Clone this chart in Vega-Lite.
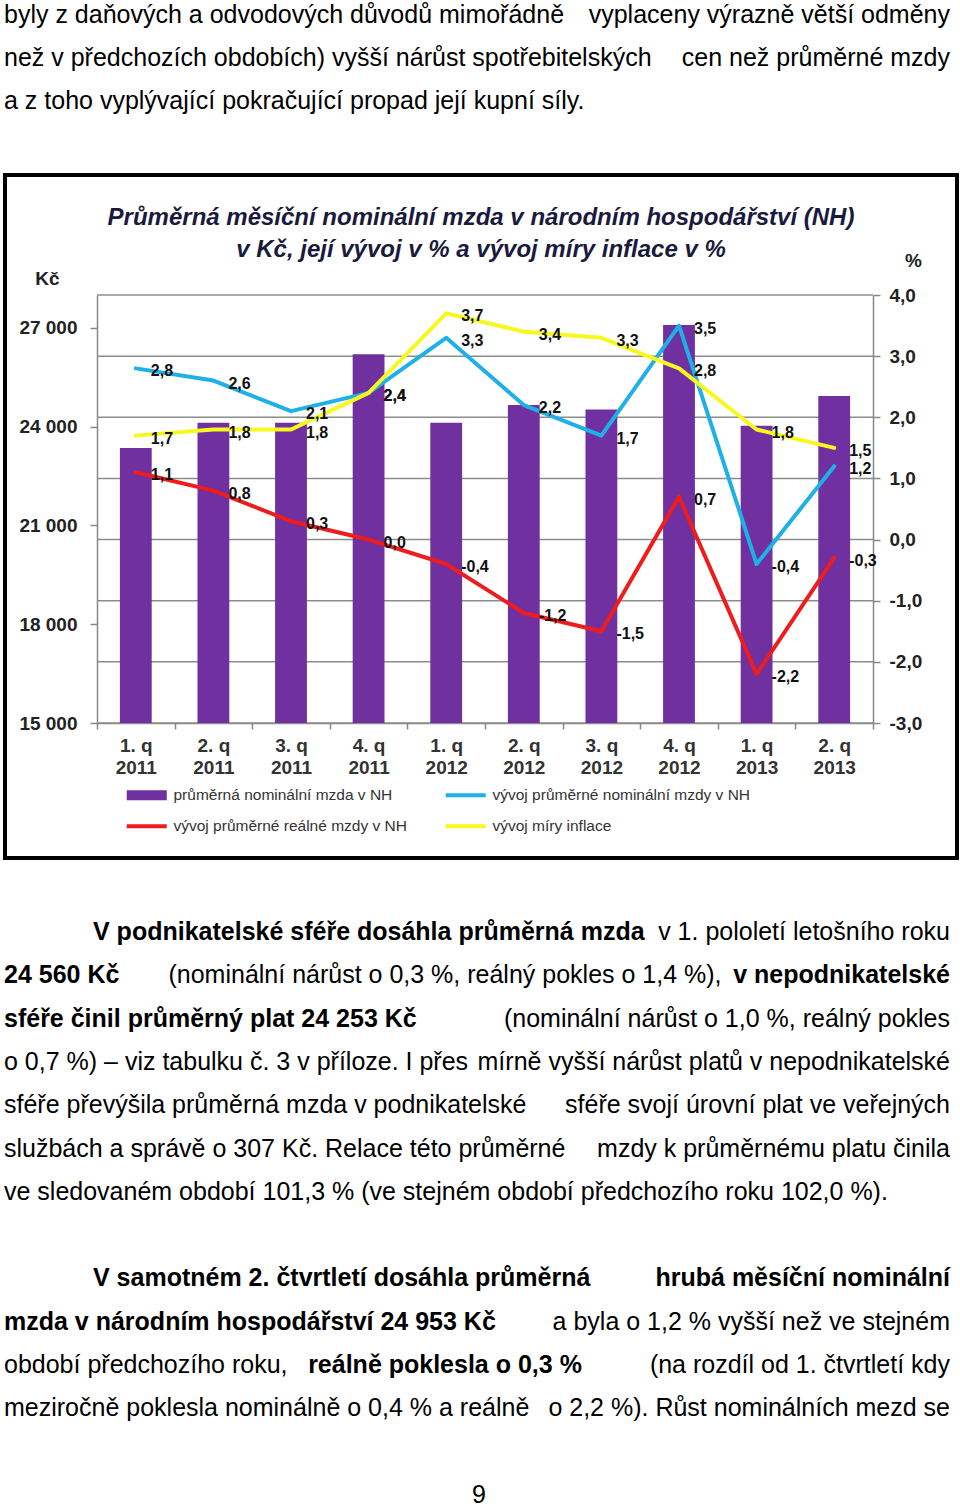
{
  "$schema": "https://vega.github.io/schema/vega-lite/v6.json",
  "padding": {"left": 3, "top": 0, "right": 0, "bottom": 0},
  "background": "white",
  "spacing": 0,
  "config": {
    "font": "Liberation Sans",
    "view": {"stroke": null},
    "locale": {"number": {"decimal": ",", "thousands": " ", "grouping": [3], "currency": ["", " Kč"], "minus": "-"}}
  },
  "datasets": {
    "horni": [
      {"radek": 0, "zarovnani": "levý okraj", "text": "byly z daňových a odvodových důvodů mimořádně"},
      {"radek": 0, "zarovnani": "pravý okraj", "text": "vyplaceny výrazně větší odměny"},
      {"radek": 1, "zarovnani": "levý okraj", "text": "než v předchozích obdobích) vyšší nárůst spotřebitelských"},
      {"radek": 1, "zarovnani": "pravý okraj", "text": "cen než průměrné mzdy"},
      {"radek": 2, "zarovnani": "levý okraj", "text": "a z toho vyplývající pokračující propad její kupní síly."}
    ],
    "mrizka": [
      {"uroven": -3}, {"uroven": -2}, {"uroven": -1}, {"uroven": 0},
      {"uroven": 1}, {"uroven": 2}, {"uroven": 3}, {"uroven": 4}
    ],
    "graf": [
      {"ctvrtleti": "1. q 2011", "ukazatel": "průměrná nominální mzda v NH", "hodnota": 23350},
      {"ctvrtleti": "2. q 2011", "ukazatel": "průměrná nominální mzda v NH", "hodnota": 24120},
      {"ctvrtleti": "3. q 2011", "ukazatel": "průměrná nominální mzda v NH", "hodnota": 24120},
      {"ctvrtleti": "4. q 2011", "ukazatel": "průměrná nominální mzda v NH", "hodnota": 26200},
      {"ctvrtleti": "1. q 2012", "ukazatel": "průměrná nominální mzda v NH", "hodnota": 24120},
      {"ctvrtleti": "2. q 2012", "ukazatel": "průměrná nominální mzda v NH", "hodnota": 24660},
      {"ctvrtleti": "3. q 2012", "ukazatel": "průměrná nominální mzda v NH", "hodnota": 24520},
      {"ctvrtleti": "4. q 2012", "ukazatel": "průměrná nominální mzda v NH", "hodnota": 27090},
      {"ctvrtleti": "1. q 2013", "ukazatel": "průměrná nominální mzda v NH", "hodnota": 24030},
      {"ctvrtleti": "2. q 2013", "ukazatel": "průměrná nominální mzda v NH", "hodnota": 24930},
      {"ctvrtleti": "1. q 2011", "ukazatel": "vývoj průměrné nominální mzdy v NH", "hodnota": 2.8},
      {"ctvrtleti": "2. q 2011", "ukazatel": "vývoj průměrné nominální mzdy v NH", "hodnota": 2.6},
      {"ctvrtleti": "3. q 2011", "ukazatel": "vývoj průměrné nominální mzdy v NH", "hodnota": 2.1},
      {"ctvrtleti": "4. q 2011", "ukazatel": "vývoj průměrné nominální mzdy v NH", "hodnota": 2.4},
      {"ctvrtleti": "1. q 2012", "ukazatel": "vývoj průměrné nominální mzdy v NH", "hodnota": 3.3},
      {"ctvrtleti": "2. q 2012", "ukazatel": "vývoj průměrné nominální mzdy v NH", "hodnota": 2.2},
      {"ctvrtleti": "3. q 2012", "ukazatel": "vývoj průměrné nominální mzdy v NH", "hodnota": 1.7},
      {"ctvrtleti": "4. q 2012", "ukazatel": "vývoj průměrné nominální mzdy v NH", "hodnota": 3.5},
      {"ctvrtleti": "1. q 2013", "ukazatel": "vývoj průměrné nominální mzdy v NH", "hodnota": -0.4},
      {"ctvrtleti": "2. q 2013", "ukazatel": "vývoj průměrné nominální mzdy v NH", "hodnota": 1.2},
      {"ctvrtleti": "1. q 2011", "ukazatel": "vývoj průměrné reálné mzdy v NH", "hodnota": 1.1},
      {"ctvrtleti": "2. q 2011", "ukazatel": "vývoj průměrné reálné mzdy v NH", "hodnota": 0.8},
      {"ctvrtleti": "3. q 2011", "ukazatel": "vývoj průměrné reálné mzdy v NH", "hodnota": 0.3},
      {"ctvrtleti": "4. q 2011", "ukazatel": "vývoj průměrné reálné mzdy v NH", "hodnota": 0.0},
      {"ctvrtleti": "1. q 2012", "ukazatel": "vývoj průměrné reálné mzdy v NH", "hodnota": -0.4},
      {"ctvrtleti": "2. q 2012", "ukazatel": "vývoj průměrné reálné mzdy v NH", "hodnota": -1.2},
      {"ctvrtleti": "3. q 2012", "ukazatel": "vývoj průměrné reálné mzdy v NH", "hodnota": -1.5},
      {"ctvrtleti": "4. q 2012", "ukazatel": "vývoj průměrné reálné mzdy v NH", "hodnota": 0.7},
      {"ctvrtleti": "1. q 2013", "ukazatel": "vývoj průměrné reálné mzdy v NH", "hodnota": -2.2},
      {"ctvrtleti": "2. q 2013", "ukazatel": "vývoj průměrné reálné mzdy v NH", "hodnota": -0.3},
      {"ctvrtleti": "1. q 2011", "ukazatel": "vývoj míry inflace", "hodnota": 1.7},
      {"ctvrtleti": "2. q 2011", "ukazatel": "vývoj míry inflace", "hodnota": 1.8},
      {"ctvrtleti": "3. q 2011", "ukazatel": "vývoj míry inflace", "hodnota": 1.8},
      {"ctvrtleti": "4. q 2011", "ukazatel": "vývoj míry inflace", "hodnota": 2.4},
      {"ctvrtleti": "1. q 2012", "ukazatel": "vývoj míry inflace", "hodnota": 3.7},
      {"ctvrtleti": "2. q 2012", "ukazatel": "vývoj míry inflace", "hodnota": 3.4},
      {"ctvrtleti": "3. q 2012", "ukazatel": "vývoj míry inflace", "hodnota": 3.3},
      {"ctvrtleti": "4. q 2012", "ukazatel": "vývoj míry inflace", "hodnota": 2.8},
      {"ctvrtleti": "1. q 2013", "ukazatel": "vývoj míry inflace", "hodnota": 1.8},
      {"ctvrtleti": "2. q 2013", "ukazatel": "vývoj míry inflace", "hodnota": 1.5}
    ],
    "dolni": [
      {"radek": 0, "zarovnani": "odstavec", "tucne": true, "text": "V podnikatelské sféře dosáhla průměrná mzda"},
      {"radek": 0, "zarovnani": "pravý okraj", "tucne": false, "text": "v 1. pololetí letošního roku"},
      {"radek": 1, "zarovnani": "levý okraj", "tucne": true, "text": "24 560 Kč"},
      {"radek": 1, "zarovnani": "střed", "tucne": false, "text": "(nominální nárůst o 0,3 %, reálný pokles o 1,4 %),"},
      {"radek": 1, "zarovnani": "pravý okraj", "tucne": true, "text": "v nepodnikatelské"},
      {"radek": 2, "zarovnani": "levý okraj", "tucne": true, "text": "sféře činil průměrný plat 24 253 Kč"},
      {"radek": 2, "zarovnani": "pravý okraj", "tucne": false, "text": "(nominální nárůst o 1,0 %, reálný pokles"},
      {"radek": 3, "zarovnani": "levý okraj", "tucne": false, "text": "o 0,7 %) – viz tabulku č. 3 v příloze. I přes"},
      {"radek": 3, "zarovnani": "pravý okraj", "tucne": false, "text": "mírně vyšší nárůst platů v nepodnikatelské"},
      {"radek": 4, "zarovnani": "levý okraj", "tucne": false, "text": "sféře převýšila průměrná mzda v podnikatelské"},
      {"radek": 4, "zarovnani": "pravý okraj", "tucne": false, "text": "sféře svojí úrovní plat ve veřejných"},
      {"radek": 5, "zarovnani": "levý okraj", "tucne": false, "text": "službách a správě o 307 Kč. Relace této průměrné"},
      {"radek": 5, "zarovnani": "pravý okraj", "tucne": false, "text": "mzdy k průměrnému platu činila"},
      {"radek": 6, "zarovnani": "levý okraj", "tucne": false, "text": "ve sledovaném období 101,3 % (ve stejném období předchozího roku 102,0 %)."},
      {"radek": 8, "zarovnani": "odstavec", "tucne": true, "text": "V samotném 2. čtvrtletí dosáhla průměrná"},
      {"radek": 8, "zarovnani": "pravý okraj", "tucne": true, "text": "hrubá měsíční nominální"},
      {"radek": 9, "zarovnani": "levý okraj", "tucne": true, "text": "mzda v národním hospodářství 24 953 Kč"},
      {"radek": 9, "zarovnani": "pravý okraj", "tucne": false, "text": "a byla o 1,2 % vyšší než ve stejném"},
      {"radek": 10, "zarovnani": "levý okraj", "tucne": false, "text": "období předchozího roku,"},
      {"radek": 10, "zarovnani": "střed", "tucne": true, "text": "reálně poklesla o 0,3 %"},
      {"radek": 10, "zarovnani": "pravý okraj", "tucne": false, "text": "(na rozdíl od 1. čtvrtletí kdy"},
      {"radek": 11, "zarovnani": "levý okraj", "tucne": false, "text": "meziročně poklesla nominálně o 0,4 % a reálně"},
      {"radek": 11, "zarovnani": "pravý okraj", "tucne": false, "text": "o 2,2 %). Růst nominálních mezd se"},
      {"radek": 13, "zarovnani": "číslo strany", "tucne": false, "text": "9"}
    ]
  },
  "vconcat": [
    {
      "width": 952,
      "height": 173,
      "view": {"fill": "white", "stroke": null},
      "data": {"name": "horni"},
      "encoding": {
        "y": {"field": "radek", "type": "quantitative", "scale": {"domain": [0, 2], "range": [23, 108.5]}, "axis": null}
      },
      "layer": [
        {
          "transform": [{"filter": "datum.zarovnani === 'levý okraj'"}],
          "mark": {"type": "text", "align": "left", "baseline": "alphabetic", "fontSize": 25, "color": "#000"},
          "encoding": {
            "x": {"field": "zarovnani", "type": "nominal", "scale": {"type": "point", "domain": ["levý okraj", "odstavec"], "range": [-1, 88], "padding": 0}, "axis": null},
            "text": {"field": "text"}
          }
        },
        {
          "transform": [{"filter": "datum.zarovnani === 'pravý okraj'"}],
          "mark": {"type": "text", "align": "right", "baseline": "alphabetic", "fontSize": 25, "color": "#000"},
          "encoding": {
            "x": {"field": "zarovnani", "type": "nominal", "scale": {"type": "point", "domain": ["pravý okraj"], "range": [945, 945], "padding": 0}, "axis": null},
            "text": {"field": "text"}
          }
        }
      ],
      "resolve": {"scale": {"x": "independent"}}
    },
    {
      "width": 952,
      "height": 683,
      "view": {"fill": "white", "stroke": "#000000", "strokeWidth": 4},
      "title": {
        "text": ["Průměrná měsíční nominální mzda v národním hospodářství (NH)", "v Kč, její vývoj v % a vývoj míry inflace v %"],
        "anchor": "middle",
        "frame": "group",
        "orient": "top",
        "offset": -111,
        "baseline": "bottom",
        "fontSize": 24,
        "fontWeight": "bold",
        "fontStyle": "italic",
        "lineHeight": 32,
        "color": "#1a1a3c",
        "font": "Liberation Sans"
      },
      "layer": [
        {
          "data": {"name": "mrizka"},
          "mark": {"type": "rule", "color": "#8c8c8c", "strokeWidth": 1.5},
          "encoding": {
            "y": {"field": "uroven", "type": "quantitative", "scale": {"domain": [-3, 4], "range": [548, 120], "zero": false, "nice": false}, "axis": null},
            "x": {"datum": 0, "type": "quantitative", "scale": {"domain": [0, 1], "range": [92, 868], "zero": false, "nice": false}, "axis": null},
            "x2": {"datum": 1}
          }
        },
        {
          "data": {"name": "graf"},
          "encoding": {
            "x": {
              "field": "ctvrtleti",
              "type": "nominal",
              "sort": null,
              "scale": {"type": "band", "domain": ["1. q 2011", "2. q 2011", "3. q 2011", "4. q 2011", "1. q 2012", "2. q 2012", "3. q 2012", "4. q 2012", "1. q 2013", "2. q 2013"], "range": [92, 868], "paddingInner": 0, "paddingOuter": 0},
              "axis": {
                "orient": "bottom",
                "offset": -135,
                "title": null,
                "grid": false,
                "tickBand": "extent",
                "tickSize": 6,
                "tickColor": "#888888",
                "tickWidth": 1.5,
                "domainColor": "#888888",
                "domainWidth": 1.5,
                "labelAngle": 0,
                "labelFont": "Liberation Sans",
                "labelFontSize": 19,
                "labelFontWeight": "bold",
                "labelColor": "#333333",
                "labelPadding": 7,
                "labelLineHeight": 22,
                "labelBaseline": "top",
                "labelExpr": "[substring(datum.label, 0, 4), substring(datum.label, 5)]"
              }
            }
          },
          "layer": [
            {
              "transform": [{"filter": "datum.ukazatel === 'průměrná nominální mzda v NH'"}],
              "mark": {"type": "bar", "width": {"band": 0.41}},
              "encoding": {
                "y": {
                  "field": "hodnota",
                  "type": "quantitative",
                  "scale": {"domain": [15000, 28000], "range": [548, 120], "zero": false, "nice": false},
                  "axis": {
                    "orient": "left",
                    "offset": -92,
                    "values": [15000, 18000, 21000, 24000, 27000],
                    "format": ",d",
                    "grid": false,
                    "title": "Kč",
                    "titleAngle": 0,
                    "titleX": -50,
                    "titleY": 103,
                    "titleAlign": "center",
                    "titleBaseline": "middle",
                    "titleFont": "Liberation Sans",
                    "titleFontSize": 19,
                    "titleFontWeight": "bold",
                    "titleColor": "#222222",
                    "labelFont": "Liberation Sans",
                    "labelFontSize": 19,
                    "labelFontWeight": "bold",
                    "labelColor": "#222222",
                    "labelPadding": 13,
                    "tickSize": 7,
                    "tickColor": "#888888",
                    "tickWidth": 1.5,
                    "domainColor": "#888888",
                    "domainWidth": 1.5
                  }
                },
                "y2": {"datum": 15000},
                "color": {
                  "field": "ukazatel",
                  "type": "nominal",
                  "scale": {"domain": ["průměrná nominální mzda v NH", "vývoj průměrné nominální mzdy v NH", "vývoj průměrné reálné mzdy v NH", "vývoj míry inflace"], "range": ["#7030a0", "#1fb0e8", "#ee1c1c", "#f8f81e"]},
                  "legend": {
                    "title": null,
                    "orient": "none",
                    "direction": "horizontal",
                    "legendX": 134,
                    "legendY": 787,
                    "columns": 2,
                    "columnPadding": 38,
                    "rowPadding": 14.5,
                    "padding": 0,
                    "symbolSize": 100,
                    "symbolType": "M-4,-1H4V1H-4Z",
                    "labelFont": "Liberation Sans",
                    "labelFontSize": 15.5,
                    "labelColor": "#333333",
                    "labelOffset": 19,
                    "labelLimit": 400,
                    "encode": {
                      "symbols": {
                        "update": {
                          "shape": {"signal": "datum.value === 'průměrná nominální mzda v NH' ? 'M-4,-1H4V1H-4Z' : 'M-4,-0.4H4V0.4H-4Z'"},
                          "fill": {"scale": "color", "field": "value"},
                          "stroke": {"value": "transparent"},
                          "strokeWidth": {"value": 0},
                          "opacity": {"value": 1},
                          "fillOpacity": {"value": 1}
                        }
                      }
                    }
                  }
                }
              }
            },
            {
              "encoding": {
                "y": {
                  "field": "hodnota",
                  "type": "quantitative",
                  "scale": {"domain": [-3, 4], "range": [548, 120], "zero": false, "nice": false},
                  "axis": {
                    "orient": "right",
                    "offset": -84,
                    "values": [-3, -2, -1, 0, 1, 2, 3, 4],
                    "format": ".1f",
                    "grid": false,
                    "title": "%",
                    "titleAngle": 0,
                    "titleX": 40,
                    "titleY": 85,
                    "titleAlign": "center",
                    "titleBaseline": "middle",
                    "titleFont": "Liberation Sans",
                    "titleFontSize": 19,
                    "titleFontWeight": "bold",
                    "titleColor": "#222222",
                    "labelFont": "Liberation Sans",
                    "labelFontSize": 19,
                    "labelFontWeight": "bold",
                    "labelColor": "#222222",
                    "labelPadding": 9,
                    "tickSize": 7,
                    "tickColor": "#888888",
                    "tickWidth": 1.5,
                    "domainColor": "#888888",
                    "domainWidth": 1.5
                  }
                }
              },
              "layer": [
                {
                  "transform": [{"filter": "datum.ukazatel === 'vývoj průměrné reálné mzdy v NH'"}],
                  "mark": {"type": "line", "strokeWidth": 4, "strokeJoin": "round", "strokeCap": "round"},
                  "encoding": {
                    "color": {"field": "ukazatel", "type": "nominal", "scale": {"domain": ["průměrná nominální mzda v NH", "vývoj průměrné nominální mzdy v NH", "vývoj průměrné reálné mzdy v NH", "vývoj míry inflace"], "range": ["#7030a0", "#1fb0e8", "#ee1c1c", "#f8f81e"]}, "legend": null}
                  }
                },
                {
                  "transform": [{"filter": "datum.ukazatel === 'vývoj průměrné nominální mzdy v NH'"}],
                  "mark": {"type": "line", "strokeWidth": 4, "strokeJoin": "round", "strokeCap": "round"},
                  "encoding": {
                    "color": {"field": "ukazatel", "type": "nominal", "scale": {"domain": ["průměrná nominální mzda v NH", "vývoj průměrné nominální mzdy v NH", "vývoj průměrné reálné mzdy v NH", "vývoj míry inflace"], "range": ["#7030a0", "#1fb0e8", "#ee1c1c", "#f8f81e"]}, "legend": null}
                  }
                },
                {
                  "transform": [{"filter": "datum.ukazatel === 'vývoj míry inflace'"}],
                  "mark": {"type": "line", "strokeWidth": 4, "strokeJoin": "round", "strokeCap": "round"},
                  "encoding": {
                    "color": {"field": "ukazatel", "type": "nominal", "scale": {"domain": ["průměrná nominální mzda v NH", "vývoj průměrné nominální mzdy v NH", "vývoj průměrné reálné mzdy v NH", "vývoj míry inflace"], "range": ["#7030a0", "#1fb0e8", "#ee1c1c", "#f8f81e"]}, "legend": null}
                  }
                },
                {
                  "transform": [{"filter": "datum.ukazatel !== 'průměrná nominální mzda v NH'"}],
                  "mark": {"type": "text", "align": "left", "baseline": "middle", "dx": 15, "dy": 3, "fontSize": 16, "fontWeight": "bold", "color": "#111111", "font": "Liberation Sans"},
                  "encoding": {
                    "text": {"field": "hodnota", "type": "quantitative", "format": ".1f"}
                  }
                }
              ]
            }
          ],
          "resolve": {"scale": {"y": "independent"}}
        }
      ],
      "resolve": {"scale": {"x": "independent", "y": "independent"}}
    },
    {
      "width": 952,
      "height": 646,
      "view": {"fill": "white", "stroke": null},
      "data": {"name": "dolni"},
      "encoding": {
        "y": {"field": "radek", "type": "quantitative", "scale": {"domain": [0, 13], "range": [80, 643]}, "axis": null}
      },
      "layer": [
        {
          "transform": [{"filter": "(datum.zarovnani === 'levý okraj' || datum.zarovnani === 'odstavec') && !datum.tucne"}],
          "mark": {"type": "text", "align": "left", "baseline": "alphabetic", "fontSize": 25, "color": "#000"},
          "encoding": {
            "x": {"field": "zarovnani", "type": "nominal", "scale": {"type": "point", "domain": ["levý okraj", "odstavec"], "range": [-1, 88], "padding": 0}, "axis": null},
            "text": {"field": "text"}
          }
        },
        {
          "transform": [{"filter": "(datum.zarovnani === 'levý okraj' || datum.zarovnani === 'odstavec') && datum.tucne"}],
          "mark": {"type": "text", "align": "left", "baseline": "alphabetic", "fontSize": 25, "fontWeight": "bold", "color": "#000"},
          "encoding": {
            "x": {"field": "zarovnani", "type": "nominal", "scale": {"type": "point", "domain": ["levý okraj", "odstavec"], "range": [-1, 88], "padding": 0}, "axis": null},
            "text": {"field": "text"}
          }
        },
        {
          "transform": [{"filter": "datum.zarovnani === 'pravý okraj' && !datum.tucne"}],
          "mark": {"type": "text", "align": "right", "baseline": "alphabetic", "fontSize": 25, "color": "#000"},
          "encoding": {
            "x": {"field": "zarovnani", "type": "nominal", "scale": {"type": "point", "domain": ["pravý okraj"], "range": [945, 945], "padding": 0}, "axis": null},
            "text": {"field": "text"}
          }
        },
        {
          "transform": [{"filter": "datum.zarovnani === 'pravý okraj' && datum.tucne"}],
          "mark": {"type": "text", "align": "right", "baseline": "alphabetic", "fontSize": 25, "fontWeight": "bold", "color": "#000"},
          "encoding": {
            "x": {"field": "zarovnani", "type": "nominal", "scale": {"type": "point", "domain": ["pravý okraj"], "range": [945, 945], "padding": 0}, "axis": null},
            "text": {"field": "text"}
          }
        },
        {
          "transform": [{"filter": "(datum.zarovnani === 'střed' || datum.zarovnani === 'číslo strany') && !datum.tucne"}],
          "mark": {"type": "text", "align": "center", "baseline": "alphabetic", "fontSize": 25, "color": "#000"},
          "encoding": {
            "x": {"field": "zarovnani", "type": "nominal", "scale": {"type": "point", "domain": ["střed", "číslo strany"], "range": [440, 474], "padding": 0}, "axis": null},
            "text": {"field": "text"}
          }
        },
        {
          "transform": [{"filter": "(datum.zarovnani === 'střed' || datum.zarovnani === 'číslo strany') && datum.tucne"}],
          "mark": {"type": "text", "align": "center", "baseline": "alphabetic", "fontSize": 25, "fontWeight": "bold", "color": "#000"},
          "encoding": {
            "x": {"field": "zarovnani", "type": "nominal", "scale": {"type": "point", "domain": ["střed", "číslo strany"], "range": [440, 474], "padding": 0}, "axis": null},
            "text": {"field": "text"}
          }
        }
      ],
      "resolve": {"scale": {"x": "independent"}}
    }
  ]
}
